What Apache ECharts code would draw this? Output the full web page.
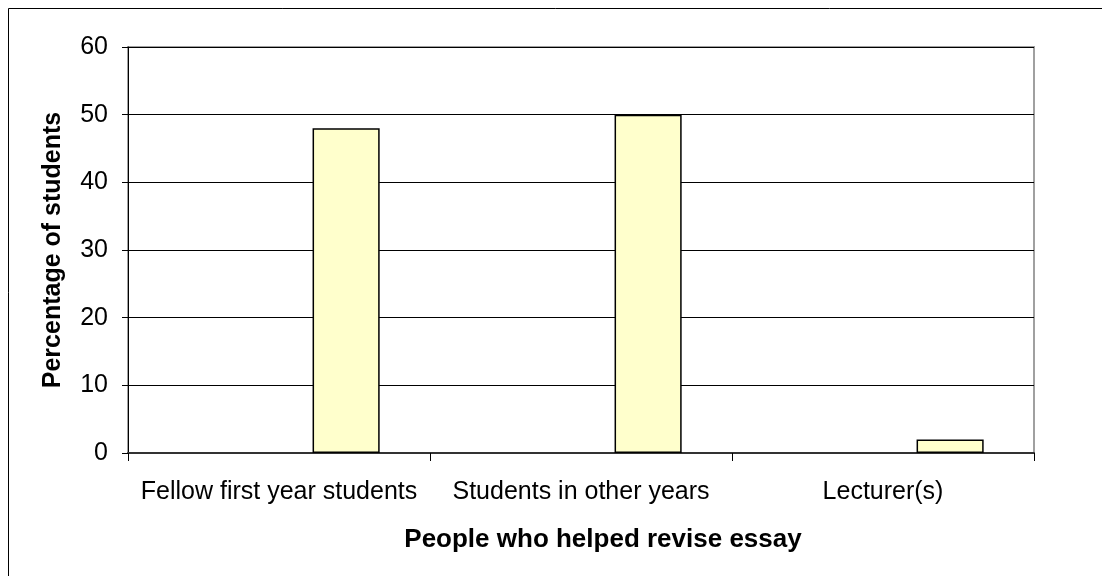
<!DOCTYPE html>
<html>
<head>
<meta charset="utf-8">
<script src="https://cdn.jsdelivr.net/npm/echarts@6/dist/echarts.min.js"></script>
<style>
html,body{margin:0;padding:0;background:#fff;}
#chart{width:1102px;height:576px;}
</style>
</head>
<body>
<div id="chart"></div>
<script>
const categories = ['Fellow first year students', 'Students in other years', 'Lecturer(s)'];
const series1Values = [null, null, null];
const series2Values = [null, null, null];
const series3Values = [48, 50, 2];
const yTicks = [0, 10, 20, 30, 40, 50, 60];
const xTitle = 'People who helped revise essay';
const yTitle = 'Percentage of students';

const chart = echarts.init(document.getElementById('chart'), null, {renderer: 'canvas'});
const font = 'Liberation Sans, Arial, sans-serif';
const barStyle = {color: '#FFFFCC', borderColor: '#000', borderWidth: 1.5};
const option = {
  animation: false,
  backgroundColor: '#fff',
  graphic: [{
    type: 'rect',
    shape: {x: 8.5, y: 8.5, width: 1200, height: 1000},
    style: {fill: 'none', stroke: '#000', lineWidth: 1},
    silent: true, z: 100
  }],
  grid: {
    left: 128, right: 68, top: 47, bottom: 123,
    show: true, borderColor: '#a0a0a0', borderWidth: 2
  },
  xAxis: {
    type: 'category',
    data: categories,
    name: xTitle,
    nameLocation: 'middle',
    nameGap: 74,
    nameTextStyle: {fontFamily: font, fontSize: 26, fontWeight: 'bold', color: '#000', padding: [0, 0, 0, 44]},
    axisLine: {lineStyle: {color: '#333', width: 2}},
    axisTick: {show: true, length: 8, inside: false, lineStyle: {color: '#000'}, interval: 0},
    axisLabel: {fontFamily: font, fontSize: 25, color: '#000', margin: 27, interval: 0}
  },
  yAxis: {
    type: 'value',
    min: yTicks[0], max: yTicks[yTicks.length - 1], interval: 10,
    name: yTitle,
    nameLocation: 'middle',
    nameGap: 62,
    nameRotate: 90,
    nameTextStyle: {fontFamily: font, fontSize: 25, fontWeight: 'bold', color: '#000'},
    axisLine: {show: true, lineStyle: {color: '#000', width: 1}},
    axisTick: {show: true, length: 6, lineStyle: {color: '#000'}},
    axisLabel: {fontFamily: font, fontSize: 25, color: '#000', margin: 20},
    splitLine: {show: true, lineStyle: {color: '#000', width: 1}}
  },
  series: [
    {type: 'bar', data: series1Values, barGap: '0%', barCategoryGap: '33.33%', itemStyle: barStyle},
    {type: 'bar', data: series2Values, barGap: '0%', barCategoryGap: '33.33%', itemStyle: barStyle},
    {type: 'bar', data: series3Values, barGap: '0%', barCategoryGap: '33.33%', itemStyle: barStyle}
  ]
};
chart.setOption(option);
</script>
</body>
</html>
